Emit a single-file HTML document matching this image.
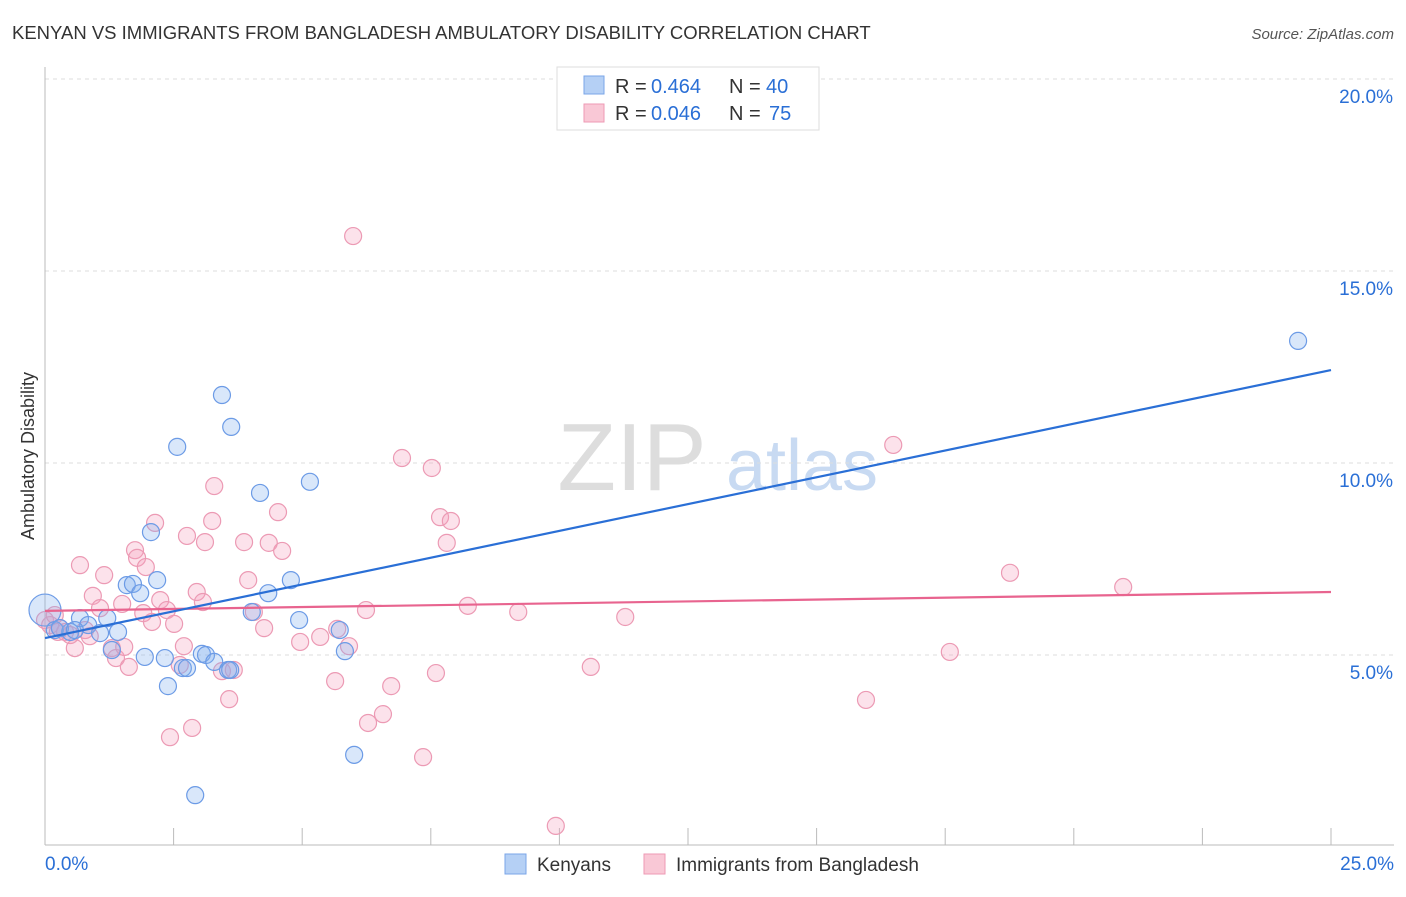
<!DOCTYPE html>
<html><head><meta charset="utf-8"><style>
body{margin:0;background:#fff;font-family:"Liberation Sans",sans-serif;}
svg text{font-family:"Liberation Sans",sans-serif;}
</style></head><body>
<svg id="chart" width="1406" height="892" viewBox="0 0 1406 892">
<text x="12" y="39" font-size="18.5" fill="#333">KENYAN VS IMMIGRANTS FROM BANGLADESH AMBULATORY DISABILITY CORRELATION CHART</text>
<text x="1394" y="39" font-size="15" fill="#555" font-style="italic" text-anchor="end">Source: ZipAtlas.com</text>
<g>
<text x="632" y="490" font-size="96" font-family="Liberation Serif" fill="#ddd" text-anchor="middle">ZIP</text>
<text x="802" y="490" font-size="72" fill="#c8daf2" text-anchor="middle">atlas</text>
</g>
<g id="grid"></g>
<g id="axes"></g>
<g id="marks"></g>
<text transform="translate(34,456) rotate(-90)" font-size="18" fill="#333" text-anchor="middle">Ambulatory Disability</text>
<g>
<rect x="557" y="67" width="262" height="63" fill="#fff" stroke="#ddd"/>
<rect x="584" y="76" width="20" height="18" fill="#b5d0f5" stroke="#7aa6e8"/>
<text x="615" y="93" font-size="20" fill="#333">R =</text>
<text x="651" y="93" font-size="20" fill="#2a6fd6">0.464</text>
<text x="729" y="93" font-size="20" fill="#333">N =</text>
<text x="766" y="93" font-size="20" fill="#2a6fd6">40</text>
<rect x="584" y="104" width="20" height="18" fill="#f9c8d6" stroke="#ee9ab4"/>
<text x="615" y="120" font-size="20" fill="#333">R =</text>
<text x="651" y="120" font-size="20" fill="#2a6fd6">0.046</text>
<text x="729" y="120" font-size="20" fill="#333">N =</text>
<text x="769" y="120" font-size="20" fill="#2a6fd6">75</text>
</g>
<g>
<rect x="505" y="854" width="21" height="20" fill="#b5d0f5" stroke="#7aa6e8"/>
<text x="537" y="871" font-size="19" fill="#333">Kenyans</text>
<rect x="644" y="854" width="21" height="20" fill="#f9c8d6" stroke="#ee9ab4"/>
<text x="676" y="871" font-size="19" fill="#333">Immigrants from Bangladesh</text>
</g>
</svg>
<script>
const yTicks=[5,10,15,20];
const yTickLabels=["5.0%","10.0%","15.0%","20.0%"];
const xTickLabels=["0.0%","25.0%"];
const kenX=[0,0.19,0.49,0.68,0.84,1.07,1.21,1.42,1.30,1.59,1.71,1.85,2.18,2.06,2.57,1.94,2.33,2.39,2.68,2.76,2.92,3.05,3.13,3.29,3.56,3.44,3.62,4.02,4.18,4.34,4.78,4.94,5.15,5.73,5.83,6.01,24.36,0.29,0.58,3.60];
const kenY=[6.17,5.65,5.60,5.96,5.78,5.57,5.96,5.60,5.13,6.82,6.85,6.61,6.95,8.20,10.42,4.95,4.92,4.19,4.66,4.66,1.35,5.03,5.00,4.82,4.61,11.77,10.94,6.12,9.22,6.61,6.95,5.91,9.51,5.65,5.10,2.40,13.18,5.70,5.65,4.61];
const banX=[0,0.10,0.19,0.29,0.39,0.58,0.68,0.78,0.93,1.07,1.15,1.30,1.38,1.50,1.54,1.63,1.75,1.79,1.91,1.96,2.08,2.14,2.24,2.37,2.43,2.51,2.62,2.70,2.76,2.86,2.95,3.07,3.11,3.25,3.29,3.44,3.58,3.67,3.87,3.95,4.06,4.26,4.35,4.53,4.61,4.96,5.35,5.64,5.68,5.91,5.99,6.24,6.28,6.57,6.73,6.94,7.35,7.52,7.60,7.68,7.81,7.89,8.22,9.20,9.93,10.61,11.28,15.96,16.49,17.59,18.76,20.96,0.25,0.87,0.49];
const banY=[5.91,5.78,6.04,5.70,5.60,5.18,7.34,5.65,6.54,6.22,7.08,5.18,4.92,6.33,5.21,4.69,7.73,7.53,6.09,7.29,5.86,8.44,6.43,6.17,2.86,5.81,4.74,5.23,8.10,3.10,6.64,6.38,7.94,8.49,9.40,4.58,3.85,4.61,7.94,6.95,6.12,5.70,7.92,8.72,7.71,5.34,5.47,4.32,5.68,5.23,15.91,6.17,3.23,3.46,4.19,10.13,2.34,9.87,4.53,8.59,7.92,8.49,6.28,6.12,0.55,4.69,5.99,3.83,10.47,5.08,7.14,6.77,5.60,5.49,5.52];
const kenTrend=[5.44,12.42];
const banTrend=[6.15,6.64];
const NS="http://www.w3.org/2000/svg";
const sx=v=>45+v*51.44, sy=v=>847-v*38.4;
function mk(tag,attrs,parent){const e=document.createElementNS(NS,tag);for(const k in attrs)e.setAttribute(k,attrs[k]);document.getElementById(parent).appendChild(e);return e;}
yTicks.forEach((t,i)=>{
 const g=mk('line',{x1:45,x2:1394,y1:sy(t),y2:sy(t),stroke:'#ddd','stroke-dasharray':'4,4'},'grid');
 
 
 const l=mk('text',{x:1393,y:sy(t)+24,'font-size':19,fill:'#2a6fd6','text-anchor':'end'},'axes');l.textContent=yTickLabels[i];
 
 
});
const topGrid=mk('line',{x1:45,x2:1394,y1:79,y2:79,stroke:'#ddd','stroke-dasharray':'4,4'},'grid');


mk('line',{x1:45,x2:45,y1:67,y2:845,stroke:'#bbb'},'axes');
mk('line',{x1:45,x2:1394,y1:845,y2:845,stroke:'#bbb'},'axes');
for(let i=0;i<=10;i++){const t=mk('line',{x1:sx(i*2.5),x2:sx(i*2.5),y1:828,y2:845,stroke:'#bbb'},'axes');
 
 }
const x0=mk('text',{x:45,y:870,'font-size':19,fill:'#2a6fd6'},'axes');x0.textContent=xTickLabels[0];


const x1=mk('text',{x:1394,y:870,'font-size':19,fill:'#2a6fd6','text-anchor':'end'},'axes');x1.textContent=xTickLabels[1];


banX.forEach((x,i)=>{const c=mk('circle',{cx:sx(x),cy:sy(banY[i]),r:8.5,fill:'rgba(245,160,188,0.3)',stroke:'#ec9ab4','stroke-width':1.2},'marks');
 
 });
kenX.forEach((x,i)=>{const c=mk('circle',{cx:sx(x),cy:sy(kenY[i]),r:i===0?16:8.5,fill:'rgba(130,175,240,0.3)',stroke:'#6c9be6','stroke-width':1.2},'marks');
 
 });
const bl=mk('line',{x1:sx(0),x2:sx(25),y1:sy(banTrend[0]),y2:sy(banTrend[1]),stroke:'#e8648f','stroke-width':2.2},'marks');


const kl=mk('line',{x1:sx(0),x2:sx(25),y1:sy(kenTrend[0]),y2:sy(kenTrend[1]),stroke:'#2a6fd6','stroke-width':2.2},'marks');


</script>
</body></html>
